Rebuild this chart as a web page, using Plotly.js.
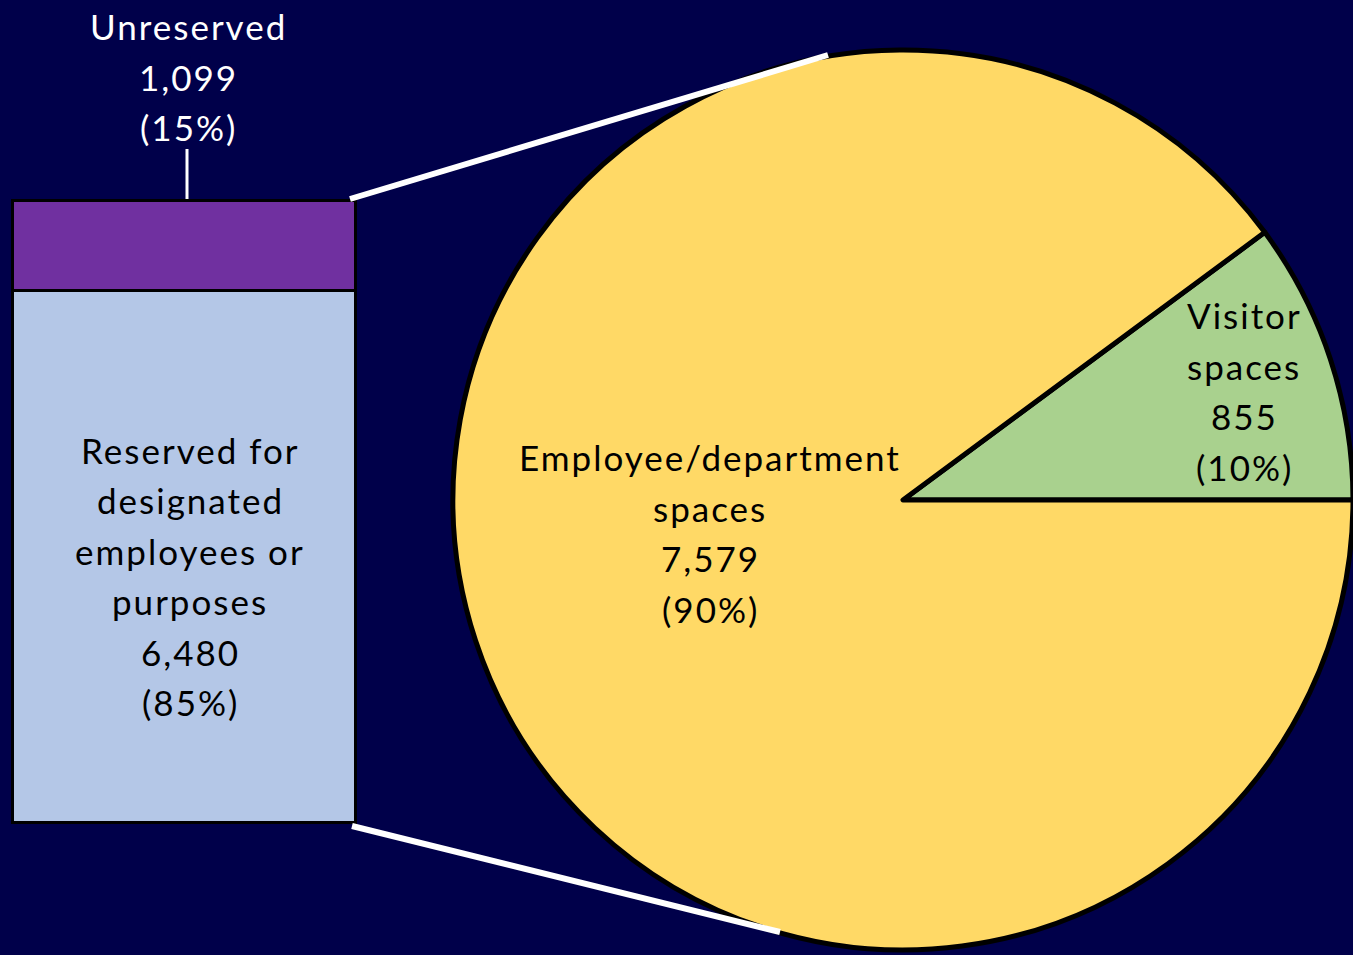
<!DOCTYPE html>
<html>
<head>
<meta charset="utf-8">
<script src="https://cdn.plot.ly/plotly-3.0.1.min.js"></script>
<style>
html,body{margin:0;padding:0;background:#00004A;}
#chart{width:1353px;height:955px;}
#chart .annotation-text{letter-spacing:2px;}
</style>
</head>
<body>
<div id="chart"></div>
<script>
// ---- data ----
var barCategories = ['Reserved for designated employees or purposes', 'Unreserved'];
var barLabelLines = [['Reserved for', 'designated', 'employees or', 'purposes'], ['Unreserved']];
var barValues = [6480, 1099];
var barColors = ['#B4C7E7', '#7030A0'];

var pieLabels = ['Visitor spaces', 'Employee/department spaces'];
var pieLabelLines = [['Visitor', 'spaces'], ['Employee/department', 'spaces']];
var pieValues = [855, 7579];
var pieColors = ['#A9D18E', '#FFD966'];

// ---- helpers ----
var W = 1353, H = 955;
function px(x) { return x / W; }
function py(y) { return 1 - y / H; }
function fmt(v) { return v.toLocaleString('en-US'); }
function pct(v, tot) { return Math.round(100 * v / tot) + '%'; }

var barTotal = barValues.reduce(function (a, b) { return a + b; }, 0);
var pieTotal = pieValues.reduce(function (a, b) { return a + b; }, 0);

// bar geometry: bar spans 12..355 px horizontally, 822 (0) .. 200 (total) vertically
var barTopPx = 200, barBotPx = 822;
var perPx = barTotal / (barBotPx - barTopPx);
var yDomTop = 195, yDomBot = 827;

var traces = [];
for (var i = 0; i < barValues.length; i++) {
  traces.push({
    type: 'bar',
    x: [0],
    y: [barValues[i]],
    name: barCategories[i],
    width: [343 / 352],
    marker: { color: barColors[i], line: { color: '#000000', width: 3 } },
    hoverinfo: 'skip',
    showlegend: false,
    xaxis: 'x', yaxis: 'y'
  });
}

traces.push({
  type: 'pie',
  labels: pieLabels,
  values: pieValues,
  sort: false,
  direction: 'clockwise',
  rotation: 90 - 360 * pieValues[0] / pieTotal,
  marker: { colors: pieColors, line: { color: '#000000', width: 5 } },
  textinfo: 'none',
  hoverinfo: 'skip',
  showlegend: false,
  domain: { x: [px(453), 1], y: [py(952), py(48)] }
});

var fontFamily = 'Lato, sans-serif';
var fontSize = 35;
var lineGap = 50.5;
var annotations = [];
function addBlock(lines, cx, cy, color) {
  var n = lines.length;
  for (var k = 0; k < n; k++) {
    var y = cy + (k - (n - 1) / 2) * lineGap;
    annotations.push({
      xref: 'paper', yref: 'paper', x: px(cx), y: py(y),
      xanchor: 'center', yanchor: 'middle', showarrow: false,
      text: lines[k],
      font: { family: fontFamily, size: fontSize, color: color }
    });
  }
}
// Unreserved (above bar, white)
addBlock(barLabelLines[1].concat([fmt(barValues[1]), '(' + pct(barValues[1], barTotal) + ')']), 188, 77, '#FFFFFF');
// Reserved (inside bar)
addBlock(barLabelLines[0].concat([fmt(barValues[0]), '(' + pct(barValues[0], barTotal) + ')']), 190, 576, '#000000');
// Pie labels
addBlock(pieLabelLines[1].concat([fmt(pieValues[1]), '(' + pct(pieValues[1], pieTotal) + ')']), 710, 533, '#000000');
addBlock(pieLabelLines[0].concat([fmt(pieValues[0]), '(' + pct(pieValues[0], pieTotal) + ')']), 1244, 391, '#000000');

var shapes = [
  { type: 'line', xref: 'paper', yref: 'paper', x0: px(350), y0: py(199), x1: px(828), y1: py(55), line: { color: '#FFFFFF', width: 6 } },
  { type: 'line', xref: 'paper', yref: 'paper', x0: px(352), y0: py(826), x1: px(780), y1: py(932), line: { color: '#FFFFFF', width: 6 } },
  { type: 'line', xref: 'paper', yref: 'paper', x0: px(187), y0: py(149), x1: px(187), y1: py(199), line: { color: '#FFFFFF', width: 3 } }
];

var layout = {
  width: W, height: H,
  margin: { l: 0, r: 0, t: 0, b: 0, pad: 0 },
  paper_bgcolor: '#00004A',
  plot_bgcolor: 'rgba(0,0,0,0)',
  barmode: 'stack',
  xaxis: { domain: [px(8), px(360)], range: [-0.5, 0.5], visible: false, fixedrange: true },
  yaxis: { domain: [py(yDomBot), py(yDomTop)], range: [-(yDomBot - barBotPx) * perPx, barTotal + (barTopPx - yDomTop) * perPx], visible: false, fixedrange: true },
  shapes: shapes,
  annotations: annotations,
  showlegend: false
};

Plotly.newPlot('chart', traces, layout, { displayModeBar: false, staticPlot: true });
</script>
</body>
</html>
